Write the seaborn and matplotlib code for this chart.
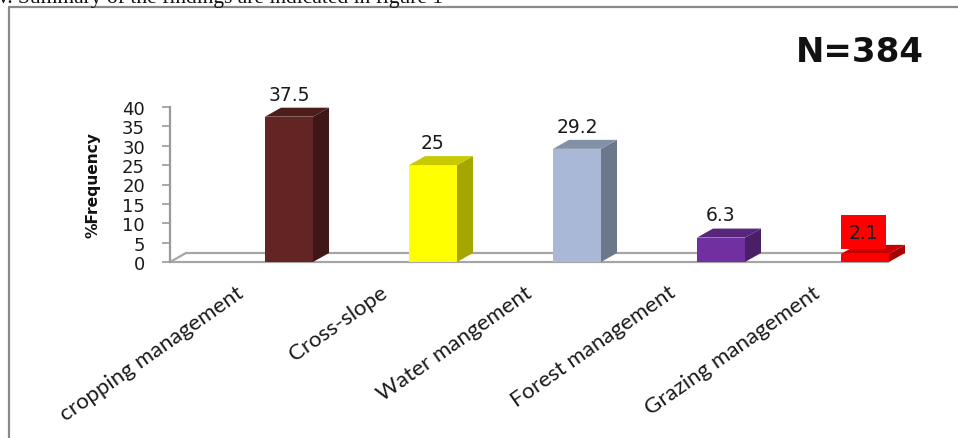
import numpy as np
import matplotlib
matplotlib.use("Agg")
import matplotlib.pyplot as plt
from matplotlib.patches import Polygon
from matplotlib.lines import Line2D
from matplotlib.transforms import ScaledTranslation
import seaborn as sns

# ---- data ----
categories = ["cropping management", "Cross-slope", "Water mangement",
              "Forest management", "Grazing management"]
values = [37.5, 25, 29.2, 6.3, 2.1]
value_labels = ["37.5", "25", "29.2", "6.3", "2.1"]
yticks = [0, 5, 10, 15, 20, 25, 30, 35, 40]

front_colors = ["#632523", "#ffff00", "#a9b8d6", "#7030a0", "#ff0000"]
side_colors = ["#3f1716", "#a6a600", "#6b778a", "#4a1f68", "#a80000"]
top_colors = ["#4d1d1b", "#c9c900", "#8391a8", "#58257d", "#c80000"]

sns.set_theme(style="white")
plt.rcParams["font.family"] = ["DejaVu Sans"]

W, H = 958, 439
fig = plt.figure(figsize=(W / 100, H / 100), dpi=100)

# plot area in pixel terms
px_left, px_right, px_zero, px_top = 170, 910, 263, 100
cat_x0, cat_step = 289.0, 144.0
px_per_unit = 3.875

ax = fig.add_axes([px_left / W, (H - px_zero) / H,
                   (px_right - px_left) / W, (px_zero - px_top) / H])

bar_w = 48 / cat_step
dx = 16 / cat_step
dy = 9 / px_per_unit

df = {"cat": categories, "val": values}
sns.barplot(x="cat", y="val", hue="cat", data=df, palette=front_colors,
            width=bar_w, saturation=1, legend=False, ax=ax,
            edgecolor="none", linewidth=0, zorder=3)

xmin = (px_left - cat_x0) / cat_step
xmax = (px_right - cat_x0) / cat_step
ax.set_xlim(xmin, xmax)
ax.set_ylim(0, (px_zero - px_top) / px_per_unit)

# floor of the 3-D plot
floor_c = "#a6a6a6"
n = len(values)
x_front_end = n - 1 + bar_w / 2
ax.plot([xmin, x_front_end], [0, 0], color=floor_c, lw=1.6, zorder=1,
        clip_on=False, solid_capstyle="butt")
ax.plot([xmin + dx, x_front_end + dx], [dy, dy], color=floor_c, lw=1.6,
        zorder=1, clip_on=False, solid_capstyle="butt")
ax.plot([xmin, xmin + dx], [0, dy], color=floor_c, lw=1.6, zorder=1,
        clip_on=False)

# side and top faces of each bar
for i, v in enumerate(values):
    x0, x1 = i - bar_w / 2, i + bar_w / 2
    side = Polygon([(x1, 0), (x1 + dx, dy), (x1 + dx, v + dy), (x1, v)],
                   closed=True, facecolor=side_colors[i], edgecolor="none",
                   zorder=4)
    top = Polygon([(x0, v), (x1, v), (x1 + dx, v + dy), (x0 + dx, v + dy)],
                  closed=True, facecolor=top_colors[i], edgecolor="none",
                  zorder=4)
    ax.add_patch(side)
    ax.add_patch(top)

# value labels
for i, (v, lab) in enumerate(zip(values, value_labels)):
    if i == n - 1:
        ax.annotate(lab, (i, v), xytext=(-1, 15.5), textcoords="offset points",
                    ha="center", va="center", fontsize=13.5, color="#1a1a1a",
                    zorder=6,
                    bbox=dict(boxstyle="square,pad=0.4", fc="#ff0000",
                              ec="none"))
    else:
        ax.annotate(lab, (i, v + dy), xytext=(0, 3),
                    textcoords="offset points", ha="center", va="bottom",
                    fontsize=13.5, color="#1a1a1a", zorder=6)

# y axis
for s in ["top", "right", "bottom"]:
    ax.spines[s].set_visible(False)
ax.spines["left"].set_bounds(0, 40)
ax.spines["left"].set_color("#9a9a9a")
ax.spines["left"].set_linewidth(1.6)
ax.set_yticks(yticks)
ax.set_yticklabels([str(t) for t in yticks], fontsize=13, color="#1a1a1a")
ax.tick_params(axis="y", length=6, width=1.2, color="#9a9a9a", pad=12,
               left=True)
ax.set_xticks([])
ax.set_xlabel("")
ax.set_ylabel("")
ax.grid(False)

# category labels
label_tr = ax.get_xaxis_transform() + ScaledTranslation(0, -0.28, fig.dpi_scale_trans)
for i, c in enumerate(categories):
    ax.text(i - 0.33, 0, c, transform=label_tr, rotation=35,
            rotation_mode="anchor", ha="right", va="center",
            fontsize=16, family=["Lato", "DejaVu Sans"], color="#1a1a1a")

# y axis title
fig.text(93 / W, 1 - 185 / H, "%Frequency", rotation=90, ha="center",
         va="center", fontsize=11.2, fontweight="bold",
         family=["DejaVu Sans"], color="#111111")

# sample size
fig.text(860 / W, 1 - 52 / H, "N=384", ha="center", va="center",
         fontsize=24.5, fontweight="bold", color="#111111")

# surrounding frame and running text above it
frame_c = "#8a8a8a"
fig.add_artist(Line2D([9 / W, 1.0], [1 - 8 / H, 1 - 8 / H], color=frame_c,
                      lw=1.6, transform=fig.transFigure))
fig.add_artist(Line2D([9 / W, 9 / W], [1 - 8 / H, 0.0], color=frame_c,
                      lw=1.6, transform=fig.transFigure))
fig.text(-2 / W, 1 - 2.5 / H, "v. Summary of the findings are indicated in figure 1",
         ha="left", va="baseline", fontsize=15.5,
         family=["Liberation Serif", "DejaVu Serif"], color="#111111")

fig.savefig("out.png", dpi=100)
